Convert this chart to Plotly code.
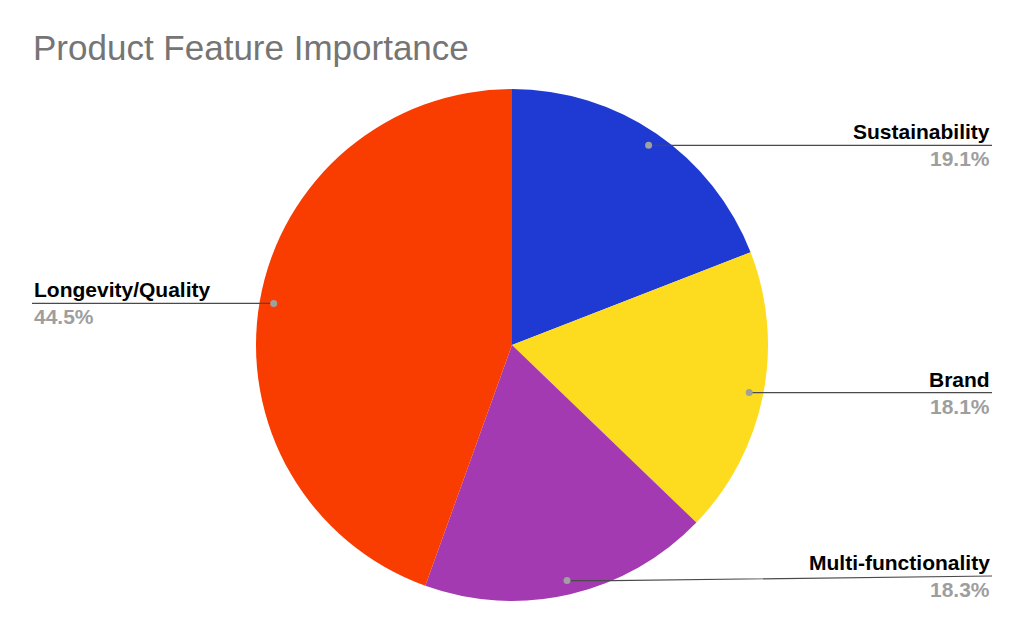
import math
import plotly.graph_objects as go

labels = ["Sustainability", "Brand", "Multi-functionality", "Longevity/Quality"]
values = [19.1, 18.1, 18.3, 44.5]
colors = ["#1f3ad2", "#fddb1f", "#a33ab1", "#f93c00"]

W, H = 1024, 632
cx, cy, R = 512, 345, 256   # pie centre / radius in pixels

fig = go.Figure()

fig.add_trace(go.Pie(
    labels=labels, values=values, sort=False, direction="clockwise", rotation=0,
    marker=dict(colors=colors, line=dict(width=0)),
    textinfo="none", hoverinfo="skip", showlegend=False,
    domain=dict(x=[(cx - R) / W, (cx + R) / W], y=[1 - (cy + R) / H, 1 - (cy - R) / H]),
))

# invisible trace so the pixel axes exist
fig.add_trace(go.Scatter(x=[0, W], y=[0, H], mode="markers", marker=dict(opacity=0),
                         hoverinfo="skip", showlegend=False))

# leader lines and labels, placed from the slice angles
total = sum(values)
cum = 0
for lab, v in zip(labels, values):
    mid = (cum + v / 2) / total * 2 * math.pi
    cum += v
    px = cx + 0.945 * R * math.sin(mid)
    py = cy - 0.945 * R * math.cos(mid)
    right = px > cx
    ly = min(py, H - 56)
    ex = 992 if right else 32
    kx = px + 45 if right else px - 45
    fig.add_shape(type="path", xref="x", yref="y", layer="above",
                  path="M %f %f L %f %f L %f %f" % (px, py, kx, py, ex, ly),
                  line=dict(color="#4a4a4a", width=1.2))
    fig.add_shape(type="circle", xref="x", yref="y", layer="above",
                  x0=px - 3.5, x1=px + 3.5, y0=py - 3.5, y1=py + 3.5,
                  fillcolor="#a0a0a0", line=dict(width=0))
    anchor = "right" if right else "left"
    fig.add_annotation(x=ex, y=ly, xref="x", yref="y", text="<b>%s</b>" % lab,
                       showarrow=False, xanchor=anchor, yanchor="bottom", yshift=0,
                       font=dict(family="Liberation Sans, Arial", size=21, color="#000000"))
    fig.add_annotation(x=ex, y=ly, xref="x", yref="y", text="<b>%.1f%%</b>" % v,
                       showarrow=False, xanchor=anchor, yanchor="top", yshift=0,
                       font=dict(family="Liberation Sans, Arial", size=21, color="#9e9e9e"))

fig.add_annotation(x=31, y=47, xref="x", yref="y", text="Product Feature Importance",
                   showarrow=False, xanchor="left", yanchor="middle",
                   font=dict(family="Liberation Sans, Arial", size=35, color="#757575"))

fig.update_layout(
    width=W, height=H,
    margin=dict(l=0, r=0, t=0, b=0),
    paper_bgcolor="white", plot_bgcolor="rgba(0,0,0,0)",
    xaxis=dict(range=[0, W], visible=False, fixedrange=True),
    yaxis=dict(range=[H, 0], visible=False, fixedrange=True),
)

fig.write_html("out.html", config={"displayModeBar": False},
               post_script="document.body.style.margin='0';")
